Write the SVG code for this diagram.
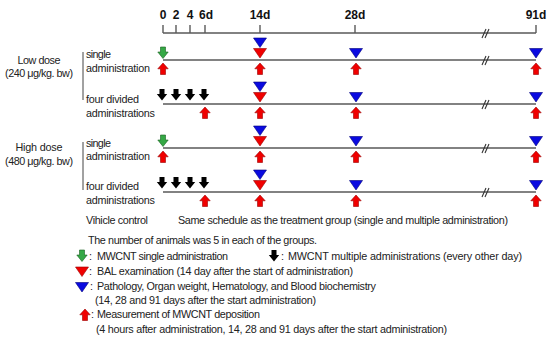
<svg xmlns="http://www.w3.org/2000/svg" xmlns:xlink="http://www.w3.org/1999/xlink" width="550" height="340" viewBox="0 0 550 340">
<style>
text{font-family:"Liberation Sans",Arial,sans-serif;font-size:10.8px;fill:#222}
.ax{font-weight:bold;font-size:12px;text-anchor:middle;fill:#111}
.mid{text-anchor:middle}
.tl{stroke:#5a5a5a;stroke-width:1.4;fill:none}
.brk{stroke:#333;stroke-width:1.1;fill:none}
.brace{stroke:#444;stroke-width:1;fill:none}
.red{fill:#f00000;stroke:#9a0000;stroke-width:0.6}
.blue{fill:#0a0ae0;stroke:#00007a;stroke-width:0.6}
.green{fill:#35a845;stroke:#175f20;stroke-width:0.6}
.black{fill:#000}
</style>
<defs>
<path id="down" d="M-2.5,0 H2.5 V5 H5.2 L0,11.5 L-5.2,5 H-2.5 Z"/>
<path id="up" d="M0,0 L5.2,5.8 H2.5 V11.5 H-2.5 V5.8 H-5.2 Z"/>
<path id="tri" d="M-6.5,0 H6.5 L0,9.5 Z"/>
</defs>

<g id="axis">
<path class="tl" d="M163,33 H536 M163,25 V33 M176,25 V33 M190,25 V33 M205,25 V33 M260,25 V33 M355,25 V33 M536,25 V33"/>
<text class="ax" x="163" y="19">0</text>
<text class="ax" x="176" y="19">2</text>
<text class="ax" x="190" y="19">4</text>
<text class="ax" x="206" y="19">6d</text>
<text class="ax" x="260" y="19">14d</text>
<text class="ax" x="355" y="19">28d</text>
<text class="ax" x="536" y="19">91d</text>
</g>

<g id="connectors">
<path class="tl" d="M163,60 H536 M163,104 H536 M163,148 H536 M163,192 H536"/>
<path class="brk" d="M482,38 L486,29 M485,38 L489,29 M482,65 L486,56 M485,65 L489,56 M482,109 L486,100 M485,109 L489,100 M482,153 L486,144 M485,153 L489,144 M482,197 L486,188 M485,197 L489,188"/>
<path class="brace" d="M83,52 V100 M83,142 V190"/>
</g>

<g id="low-dose">
<text class="mid" x="39" y="64" textLength="43">Low dose</text>
<text class="mid" x="39" y="77" textLength="68">(240 μg/kg. bw)</text>
</g>
<g id="high-dose">
<text class="mid" x="39" y="151" textLength="47">High dose</text>
<text class="mid" x="39" y="165" textLength="68">(480 μg/kg. bw)</text>
</g>

<g id="low-single">
<text x="86" y="58" textLength="25">single</text>
<text x="86" y="72" textLength="64">administration</text>
<use href="#down" class="green" x="163" y="47"/>
<use href="#up" class="red" x="163" y="63"/>
<use href="#tri" class="blue" x="260" y="38"/>
<use href="#tri" class="red" x="260" y="48.5"/>
<use href="#up" class="red" x="260" y="63"/>
<use href="#tri" class="blue" x="356" y="48.5"/>
<use href="#up" class="red" x="356" y="63"/>
<use href="#tri" class="blue" x="536" y="48.5"/>
<use href="#up" class="red" x="536" y="63"/>
</g>

<g id="low-four">
<text x="86" y="103" textLength="53">four divided</text>
<text x="86" y="117" textLength="69">administrations</text>
<use href="#down" class="black" x="162" y="89"/>
<use href="#down" class="black" x="176" y="89"/>
<use href="#down" class="black" x="190" y="89"/>
<use href="#down" class="black" x="204" y="89"/>
<use href="#up" class="red" x="205" y="107"/>
<use href="#tri" class="blue" x="260" y="82"/>
<use href="#tri" class="red" x="260" y="92.5"/>
<use href="#up" class="red" x="260" y="107"/>
<use href="#tri" class="blue" x="356" y="92.5"/>
<use href="#up" class="red" x="356" y="107"/>
<use href="#tri" class="blue" x="536" y="92.5"/>
<use href="#up" class="red" x="536" y="107"/>
</g>

<g id="high-single">
<text x="86" y="147" textLength="25">single</text>
<text x="86" y="160" textLength="64">administration</text>
<use href="#down" class="green" x="163" y="135"/>
<use href="#up" class="red" x="163" y="151"/>
<use href="#tri" class="blue" x="260" y="126"/>
<use href="#tri" class="red" x="260" y="136.5"/>
<use href="#up" class="red" x="260" y="151"/>
<use href="#tri" class="blue" x="356" y="136.5"/>
<use href="#up" class="red" x="356" y="151"/>
<use href="#tri" class="blue" x="536" y="136.5"/>
<use href="#up" class="red" x="536" y="151"/>
</g>

<g id="high-four">
<text x="86" y="190" textLength="53">four divided</text>
<text x="86" y="204" textLength="69">administrations</text>
<use href="#down" class="black" x="162" y="177"/>
<use href="#down" class="black" x="176" y="177"/>
<use href="#down" class="black" x="190" y="177"/>
<use href="#down" class="black" x="204" y="177"/>
<use href="#up" class="red" x="205" y="195"/>
<use href="#tri" class="blue" x="260" y="170"/>
<use href="#tri" class="red" x="260" y="180.5"/>
<use href="#up" class="red" x="260" y="195"/>
<use href="#tri" class="blue" x="356" y="180.5"/>
<use href="#up" class="red" x="356" y="195"/>
<use href="#tri" class="blue" x="536" y="180.5"/>
<use href="#up" class="red" x="536" y="195"/>
</g>

<g id="control">
<text x="86" y="224" textLength="62">Vihicle control</text>
<text x="178" y="224" textLength="330">Same schedule as the treatment group (single and multiple administration)</text>
</g>

<g id="legend">
<text x="88" y="244" textLength="229">The number of animals was 5 in each of the groups.</text>
<use href="#down" class="green" x="82" y="250"/>
<text x="89" y="260">:<tspan x="97" textLength="131">MWCNT single administration</tspan></text>
<use href="#down" class="black" x="274" y="250"/>
<text x="281" y="260">:<tspan x="288" textLength="234">MWCNT multiple administrations  (every other day)</tspan></text>
<use href="#tri" class="red" x="82" y="267"/>
<text x="89" y="275">:<tspan x="97" textLength="256">BAL examination (14 day after the start of administration)</tspan></text>
<use href="#tri" class="blue" x="82" y="282.5"/>
<text x="90" y="290">:<tspan x="97" textLength="279">Pathology, Organ weight, Hematology, and Blood biochemistry</tspan></text>
<text x="95" y="304" textLength="221">(14, 28 and 91 days after the start administration)</text>
<use href="#up" class="red" x="85" y="309"/>
<text x="91" y="318">:<tspan x="97" textLength="163">Measurement of MWCNT deposition</tspan></text>
<text x="96" y="333" textLength="351">(4 hours after administration, 14, 28 and 91 days after the start administration)</text>
</g>
</svg>
